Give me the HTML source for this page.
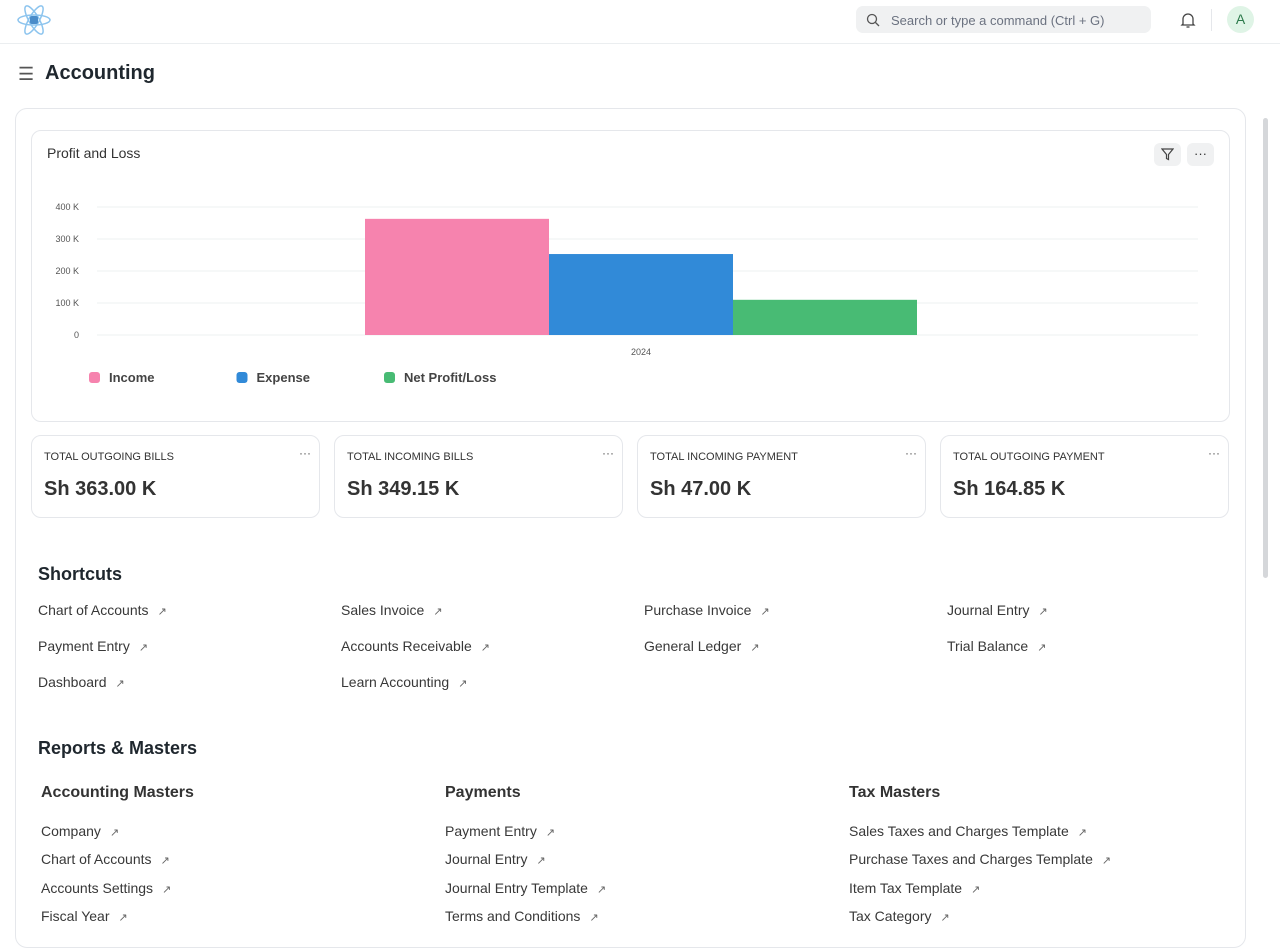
<!DOCTYPE html>
<html><head><meta charset="utf-8"><style>
*{box-sizing:border-box;margin:0;padding:0}
body{width:1280px;height:928px;overflow:hidden;background:#fff;font-family:"Liberation Sans",sans-serif;color:#1f272e;position:relative}
.abs{position:absolute}
.topbar{left:0;top:0;width:1280px;height:44px;border-bottom:1px solid #ebeef0}
.search{left:856px;top:6px;width:295px;height:27px;background:#f0f1f2;border-radius:7px;font-size:13px;color:#6b7280;padding:7px 0 0 35px}
.avatar{left:1227px;top:6px;width:27px;height:27px;border-radius:50%;background:#dff4e6;color:#2c7a4b;font-size:14px;text-align:center;line-height:27px}
.title{left:45px;top:62px;font-size:20px;font-weight:bold}
.main{left:15px;top:108px;width:1231px;height:840px;border:1px solid #e5e7eb;border-radius:12px}
.chartcard{left:31px;top:130px;width:1199px;height:292px;border:1px solid #e5e7eb;border-radius:10px}
.btn{width:27px;height:23px;background:#f0f1f2;border-radius:6px;font-size:13px;text-align:center;line-height:22px;color:#333}
.card{top:435px;width:289px;height:83px;border:1px solid #e5e7eb;border-radius:10px}
.card .lbl{position:absolute;left:12px;top:15px;font-size:11px;color:#333}
.card .val{position:absolute;left:12px;top:42px;font-size:20px;font-weight:bold;color:#333}
.card .dots{position:absolute;right:8px;top:10px;font-size:12px;color:#555}
.h2{font-size:18px;font-weight:bold}
.lnk{font-size:14px;color:#383838}
.lnk:after{content:" \2197";font-size:11px;color:#666;margin-left:6px}
.h3{font-size:16px;font-weight:bold;color:#333}
.scroll{left:1263px;top:118px;width:5px;height:460px;background:#d5d7da;border-radius:3px}
</style></head><body>
<div class="abs topbar"></div>
<svg class="abs" style="left:16px;top:5px" width="36" height="30"><g fill="none" stroke="#8cc4ee" stroke-width="1.5"><ellipse cx="18" cy="15" rx="16" ry="5"/><ellipse cx="18" cy="15" rx="16" ry="5" transform="rotate(60 18 15)"/><ellipse cx="18" cy="15" rx="16" ry="5" transform="rotate(-60 18 15)"/></g><rect x="14" y="11" width="8" height="8" rx="2" fill="#4a8cc9"/></svg>
<div class="abs search">Search or type a command (Ctrl + G)</div>
<svg class="abs" style="left:866px;top:13px" width="14" height="14"><circle cx="6" cy="6" r="4.5" fill="none" stroke="#555" stroke-width="1.3"/><line x1="9.5" y1="9.5" x2="13" y2="13" stroke="#555" stroke-width="1.3"/></svg>
<svg class="abs" style="left:1180px;top:11px" width="16" height="18"><path d="M3 13 V8 a5 5 0 0 1 10 0 V13 L14 14 H2 Z" fill="none" stroke="#444" stroke-width="1.3"/><path d="M6.5 16 h3" stroke="#444" stroke-width="1.3"/></svg>
<div class="abs" style="left:1211px;top:9px;width:1px;height:22px;background:#e5e7eb"></div>
<div class="abs avatar">A</div>
<div class="abs" style="left:18px;top:66px;font-size:18px;color:#555;line-height:16px">☰</div>
<div class="abs title">Accounting</div>
<div class="abs main"></div>
<div class="abs scroll"></div>
<div class="abs chartcard"></div>
<div class="abs" style="left:47px;top:145px;font-size:14px;color:#333">Profit and Loss</div>
<div class="abs btn" style="left:1154px;top:143px"><svg width="13" height="13" style="margin-top:5px"><path d="M1 1 H12 L7.5 6.5 V11.5 L5.5 10.5 V6.5 Z" fill="none" stroke="#444" stroke-width="1.2"/></svg></div>
<div class="abs btn" style="left:1187px;top:143px">···</div>
<svg id="chart" class="abs" style="left:0;top:0" width="1280" height="400"></svg>
<div class="abs card" style="left:31px"><div class="lbl">TOTAL OUTGOING BILLS</div><div class="val">Sh 363.00 K</div><div class="dots">···</div></div>
<div class="abs card" style="left:334px"><div class="lbl">TOTAL INCOMING BILLS</div><div class="val">Sh 349.15 K</div><div class="dots">···</div></div>
<div class="abs card" style="left:637px"><div class="lbl">TOTAL INCOMING PAYMENT</div><div class="val">Sh 47.00 K</div><div class="dots">···</div></div>
<div class="abs card" style="left:940px"><div class="lbl">TOTAL OUTGOING PAYMENT</div><div class="val">Sh 164.85 K</div><div class="dots">···</div></div>
<div class="abs h2" style="left:38px;top:564px">Shortcuts</div>
<div class="abs lnk" style="left:38px;top:602px">Chart of Accounts</div>
<div class="abs lnk" style="left:341px;top:602px">Sales Invoice</div>
<div class="abs lnk" style="left:644px;top:602px">Purchase Invoice</div>
<div class="abs lnk" style="left:947px;top:602px">Journal Entry</div>
<div class="abs lnk" style="left:38px;top:638px">Payment Entry</div>
<div class="abs lnk" style="left:341px;top:638px">Accounts Receivable</div>
<div class="abs lnk" style="left:644px;top:638px">General Ledger</div>
<div class="abs lnk" style="left:947px;top:638px">Trial Balance</div>
<div class="abs lnk" style="left:38px;top:674px">Dashboard</div>
<div class="abs lnk" style="left:341px;top:674px">Learn Accounting</div>
<div class="abs h2" style="left:38px;top:738px">Reports &amp; Masters</div>
<div class="abs h3" style="left:41px;top:784px">Accounting Masters</div>
<div class="abs h3" style="left:445px;top:784px">Payments</div>
<div class="abs h3" style="left:849px;top:784px">Tax Masters</div>
<div class="abs lnk" style="left:41px;top:823px">Company</div>
<div class="abs lnk" style="left:41px;top:851px">Chart of Accounts</div>
<div class="abs lnk" style="left:41px;top:880px">Accounts Settings</div>
<div class="abs lnk" style="left:41px;top:908px">Fiscal Year</div>
<div class="abs lnk" style="left:445px;top:823px">Payment Entry</div>
<div class="abs lnk" style="left:445px;top:851px">Journal Entry</div>
<div class="abs lnk" style="left:445px;top:880px">Journal Entry Template</div>
<div class="abs lnk" style="left:445px;top:908px">Terms and Conditions</div>
<div class="abs lnk" style="left:849px;top:823px">Sales Taxes and Charges Template</div>
<div class="abs lnk" style="left:849px;top:851px">Purchase Taxes and Charges Template</div>
<div class="abs lnk" style="left:849px;top:880px">Item Tax Template</div>
<div class="abs lnk" style="left:849px;top:908px">Tax Category</div>
<script>
const categories=["2024"];
const seriesNames=["Income","Expense","Net Profit/Loss"];
const seriesValues=[363,253,110];
const seriesColors=["#f683ae","#318ad8","#48bb74"];
const yTicks=[0,100,200,300,400];
const yTickLabels=["0","100 K","200 K","300 K","400 K"];
const NS="http://www.w3.org/2000/svg";
const svg=document.getElementById('chart');
const x0=97,x1=1198,y0=335,yMax=400,ph=128;
const bx0=83,bx1=1199;
function y(v){return y0-v/yMax*ph;}
function mk(t,a){const e=document.createElementNS(NS,t);for(const k in a)e.setAttribute(k,a[k]);svg.appendChild(e);return e;}
yTicks.forEach((t,i)=>{
 const l=mk('line',{x1:x0,x2:x1,y1:y(t),y2:y(t),stroke:'#eef0f2'});
 
 
 const tx=mk('text',{x:79,y:y(t)+3,'text-anchor':'end','font-size':9,fill:'#555','font-family':'Liberation Sans'});
 tx.textContent=yTickLabels[i];
 
 
});
const groupW=(bx1-bx0)/categories.length;
const barW=184;
categories.forEach((c,ci)=>{
 const cx=bx0+groupW*(ci+0.5);
 const start=cx-barW*seriesValues.length/2;
 seriesValues.forEach((v,si)=>{
  const r=mk('rect',{x:start+si*barW,y:y(v),width:barW,height:y0-y(v),fill:seriesColors[si]});
  
  
 });
 const t=mk('text',{x:cx,y:355,'text-anchor':'middle','font-size':9,fill:'#555','font-family':'Liberation Sans'});
 t.textContent=c;
 
 
});
seriesNames.forEach((n,i)=>{
 const lx=89+i*147.5;
 const r=mk('rect',{x:lx,y:372,width:11,height:11,rx:3,fill:seriesColors[i]});
 
 
 const t=mk('text',{x:lx+20,y:382,'font-size':13,'font-weight':'bold',fill:'#444','font-family':'Liberation Sans'});
 t.textContent=n;
 
 
});
</script>
</body></html>
